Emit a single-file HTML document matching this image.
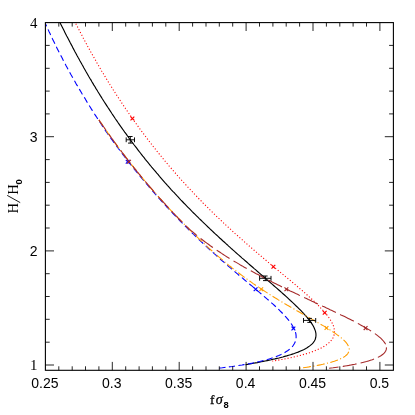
<!DOCTYPE html>
<html><head><meta charset="utf-8"><title>plot</title>
<style>
html,body{margin:0;padding:0;background:#fff;}
body{width:415px;height:415px;overflow:hidden;font-family:"Liberation Sans",sans-serif;}
svg{display:block;will-change:transform;}
</style></head><body>
<svg width="415" height="415" viewBox="0 0 415 415">
<rect width="415" height="415" fill="#fff"/>
<defs><clipPath id="c"><rect x="45.4" y="22.6" width="348.0" height="347.7"/></clipPath></defs>
<g clip-path="url(#c)" fill="none" stroke-width="1.1">
<path d="M57.8 18.0L58.7 19.8L59.5 21.6L60.4 23.4L61.3 25.2L62.2 27.0L63.1 28.8L64.0 30.6L64.9 32.4L65.8 34.2L66.7 36.0L67.7 37.7L68.6 39.5L69.5 41.3L70.4 43.1L71.4 44.9L72.3 46.6L73.2 48.4L74.2 50.2L75.1 52.0L76.1 53.7L77.0 55.5L78.0 57.3L79.0 59.0L79.9 60.8L80.9 62.5L81.9 64.3L82.9 66.0L83.8 67.8L84.8 69.5L85.8 71.3L86.8 73.0L87.8 74.7L88.8 76.5L89.8 78.2L90.9 79.9L91.9 81.7L92.9 83.4L93.9 85.1L95.0 86.8L96.0 88.6L97.1 90.3L98.1 92.0L99.2 93.7L100.2 95.4L101.3 97.1L102.3 98.8L103.4 100.5L104.5 102.2L105.6 103.9L106.7 105.6L107.8 107.3L108.9 108.9L110.0 110.6L111.1 112.3L112.2 114.0L113.3 115.6L114.4 117.3L115.5 119.0L116.7 120.6L117.8 122.3L118.9 123.9L120.1 125.6L121.2 127.2L122.4 128.8L123.6 130.5L124.7 132.1L125.9 133.7L127.1 135.4L128.3 137.0L129.4 138.6L130.6 140.2L131.8 141.8L133.0 143.4L134.2 145.0L135.5 146.6L136.7 148.2L137.9 149.8L139.1 151.4L140.4 153.0L141.6 154.6L142.8 156.2L144.1 157.7L145.3 159.3L146.6 160.9L147.9 162.4L149.1 164.0L150.4 165.5L151.7 167.1L153.0 168.6L154.3 170.2L155.6 171.7L156.8 173.2L158.2 174.7L159.5 176.3L160.8 177.8L162.1 179.3L163.4 180.8L164.7 182.3L166.1 183.8L167.4 185.3L168.8 186.8L170.1 188.3L171.4 189.8L172.8 191.3L174.2 192.7L175.5 194.2L176.9 195.7L178.3 197.1L179.6 198.6L181.0 200.1L182.4 201.5L183.8 203.0L185.2 204.4L186.6 205.9L188.0 207.3L189.4 208.7L190.8 210.1L192.2 211.6L193.6 213.0L195.1 214.4L196.5 215.8L197.9 217.2L199.3 218.6L200.8 220.0L202.2 221.4L203.7 222.8L205.1 224.2L206.6 225.6L208.0 227.0L209.5 228.4L210.9 229.8L212.4 231.1L213.8 232.5L215.3 233.9L216.8 235.2L218.3 236.6L219.7 238.0L221.2 239.3L222.7 240.7L224.2 242.0L225.7 243.4L227.2 244.7L228.6 246.1L230.1 247.4L231.6 248.8L233.1 250.1L234.6 251.4L236.1 252.8L237.6 254.1L239.1 255.4L240.6 256.7L242.1 258.1L243.7 259.4L245.2 260.7L246.7 262.0L248.2 263.4L249.7 264.7L251.2 266.0L252.7 267.3L254.2 268.6L255.8 269.9L257.3 271.3L258.8 272.6L260.3 273.9L261.8 275.2L263.3 276.5L264.9 277.8L266.4 279.1L267.9 280.5L269.4 281.8L270.9 283.1L272.4 284.4L273.9 285.7L275.5 287.1L277.0 288.4L278.5 289.7L280.0 291.0L281.5 292.4L283.0 293.7L284.5 295.0L286.0 296.4L287.4 297.7L288.9 299.1L290.4 300.5L291.9 301.8L293.3 303.2L294.8 304.6L296.2 306.0L297.7 307.4L299.1 308.8L300.5 310.2L301.9 311.7L303.3 313.1L304.6 314.6L306.0 316.1L307.3 317.6L308.5 319.2L309.8 320.8L310.9 322.4L312.1 324.1L313.1 325.8L314.0 327.6L314.8 329.4L315.5 331.3L315.9 333.3L316.0 335.3L315.8 337.2L315.3 339.2L314.4 341.0L313.3 342.6L311.9 344.1L310.4 345.4L308.8 346.6L307.1 347.7L305.4 348.7L303.6 349.7L301.8 350.5L300.0 351.3L298.1 352.1L296.2 352.8L294.3 353.5L292.4 354.1L290.5 354.8L288.6 355.3L286.7 355.9L284.7 356.4L282.8 357.0L280.9 357.5L278.9 358.0L277.0 358.4L275.0 358.9L273.1 359.3L271.1 359.8L269.1 360.2L267.2 360.6L265.2 361.0L263.2 361.4L261.3 361.8L259.3 362.2L257.3 362.6L255.4 362.9L253.4 363.3L251.4 363.7L249.4 364.0L247.5 364.4L245.5 364.7" stroke="#000" stroke-width="1.15"/>
<path d="M73.1 18.0L74.0 19.8L74.8 21.6L75.7 23.4L76.7 25.2L77.6 27.0L78.5 28.8L79.4 30.5L80.3 32.3L81.2 34.1L82.2 35.9L83.1 37.7L84.0 39.4L85.0 41.2L85.9 43.0L86.9 44.7L87.8 46.5L88.8 48.3L89.8 50.0L90.7 51.8L91.7 53.5L92.7 55.3L93.7 57.0L94.7 58.8L95.7 60.5L96.6 62.3L97.6 64.0L98.7 65.8L99.7 67.5L100.7 69.2L101.7 71.0L102.7 72.7L103.8 74.4L104.8 76.1L105.8 77.8L106.9 79.6L107.9 81.3L109.0 83.0L110.0 84.7L111.1 86.4L112.2 88.1L113.2 89.8L114.3 91.5L115.4 93.2L116.5 94.9L117.6 96.5L118.7 98.2L119.8 99.9L120.9 101.6L122.0 103.3L123.1 104.9L124.2 106.6L125.3 108.3L126.5 109.9L127.6 111.6L128.7 113.2L129.9 114.9L131.0 116.5L132.2 118.2L133.3 119.8L134.5 121.4L135.7 123.1L136.8 124.7L138.0 126.3L139.2 128.0L140.4 129.6L141.6 131.2L142.8 132.8L144.0 134.4L145.2 136.0L146.4 137.6L147.6 139.2L148.8 140.8L150.0 142.4L151.3 144.0L152.5 145.6L153.7 147.1L155.0 148.7L156.2 150.3L157.5 151.8L158.8 153.4L160.0 155.0L161.3 156.5L162.6 158.1L163.8 159.6L165.1 161.2L166.4 162.7L167.7 164.2L169.0 165.8L170.3 167.3L171.6 168.8L172.9 170.3L174.2 171.9L175.6 173.4L176.9 174.9L178.2 176.4L179.5 177.9L180.9 179.4L182.2 180.9L183.6 182.4L184.9 183.8L186.3 185.3L187.6 186.8L189.0 188.3L190.4 189.7L191.8 191.2L193.1 192.7L194.5 194.1L195.9 195.6L197.3 197.0L198.7 198.5L200.1 199.9L201.5 201.3L202.9 202.8L204.3 204.2L205.7 205.6L207.1 207.0L208.6 208.4L210.0 209.9L211.4 211.3L212.9 212.7L214.3 214.1L215.7 215.5L217.2 216.9L218.6 218.2L220.1 219.6L221.6 221.0L223.0 222.4L224.5 223.8L225.9 225.1L227.4 226.5L228.9 227.8L230.4 229.2L231.9 230.6L233.3 231.9L234.8 233.3L236.3 234.6L237.8 235.9L239.3 237.3L240.8 238.6L242.3 239.9L243.8 241.3L245.3 242.6L246.8 243.9L248.3 245.2L249.9 246.6L251.4 247.9L252.9 249.2L254.4 250.5L255.9 251.8L257.5 253.1L259.0 254.4L260.5 255.7L262.1 257.0L263.6 258.3L265.1 259.6L266.7 260.9L268.2 262.2L269.7 263.4L271.3 264.7L272.8 266.0L274.4 267.3L275.9 268.6L277.5 269.9L279.0 271.2L280.5 272.4L282.1 273.7L283.6 275.0L285.2 276.3L286.7 277.6L288.3 278.9L289.8 280.1L291.3 281.4L292.9 282.7L294.4 284.0L296.0 285.3L297.5 286.6L299.0 287.9L300.5 289.2L302.1 290.5L303.6 291.8L305.1 293.2L306.6 294.5L308.1 295.8L309.6 297.2L311.1 298.5L312.5 299.9L314.0 301.2L315.5 302.6L316.9 304.0L318.3 305.4L319.7 306.9L321.1 308.3L322.5 309.8L323.8 311.3L325.1 312.8L326.4 314.3L327.7 315.9L328.8 317.5L330.0 319.2L331.0 320.9L332.0 322.7L332.9 324.5L333.6 326.4L334.1 328.3L334.4 330.3L334.5 332.3L334.3 334.3L333.7 336.2L332.9 338.0L331.8 339.7L330.6 341.3L329.1 342.7L327.6 344.0L326.0 345.1L324.3 346.2L322.5 347.2L320.8 348.2L319.0 349.0L317.1 349.8L315.3 350.6L313.4 351.3L311.5 352.0L309.6 352.7L307.7 353.3L305.8 353.9L303.8 354.4L301.9 355.0L300.0 355.5L298.0 356.0L296.1 356.4L294.1 356.9L292.2 357.3L290.2 357.8L288.2 358.2L286.3 358.6L284.3 359.0L282.3 359.4L280.4 359.7L278.4 360.1L276.4 360.4L274.4 360.8L272.4 361.1" stroke="#ff0000" stroke-dasharray="1.1 2.05" stroke-width="1.1"/>
<path d="M45.0 22.6L45.8 24.4L46.6 26.2L47.5 28.1L48.3 29.9L49.1 31.7L50.0 33.5L50.8 35.3L51.7 37.1L52.5 38.9L53.4 40.7L54.3 42.5L55.2 44.3L56.0 46.1L56.9 47.9L57.8 49.7L58.7 51.5L59.6 53.3L60.5 55.1L61.5 56.8L62.4 58.6L63.3 60.4L64.2 62.2L65.2 63.9L66.1 65.7L67.1 67.5L68.0 69.2L69.0 71.0L69.9 72.7L70.9 74.5L71.9 76.2L72.9 78.0L73.9 79.7L74.9 81.4L75.8 83.2L76.8 84.9L77.9 86.6L78.9 88.4L79.9 90.1L80.9 91.8L81.9 93.5L83.0 95.2L84.0 96.9L85.1 98.6L86.1 100.4L87.1 102.1L88.2 103.8L89.2 105.5L90.3 107.2L91.3 108.9L92.4 110.6L93.5 112.3L94.5 114.0L95.6 115.6L96.7 117.3L97.8 119.0L98.9 120.7L100.0 122.3L101.1 124.0L102.2 125.7L103.3 127.3L104.4 129.0L105.5 130.7L106.7 132.3L107.8 133.9L109.0 135.6L110.1 137.2L111.3 138.8L112.5 140.4L113.6 142.1L114.8 143.7L116.0 145.3L117.2 146.9L118.4 148.5L119.6 150.1L120.8 151.7L122.0 153.3L123.2 154.9L124.4 156.5L125.6 158.1L126.9 159.7L128.1 161.2L129.3 162.8L130.5 164.4L131.8 166.0L133.0 167.5L134.3 169.1L135.5 170.7L136.8 172.2L138.1 173.8L139.3 175.3L140.6 176.9L141.9 178.4L143.2 179.9L144.4 181.5L145.7 183.0L147.0 184.5L148.3 186.0L149.6 187.6L150.9 189.1L152.2 190.6L153.6 192.1L154.9 193.6L156.2 195.1L157.5 196.6L158.8 198.1L160.2 199.6L161.5 201.1L162.9 202.6L164.2 204.0L165.6 205.5L166.9 207.0L168.3 208.4L169.6 209.9L171.0 211.4L172.4 212.8L173.8 214.3L175.1 215.7L176.5 217.2L177.9 218.6L179.3 220.0L180.7 221.5L182.1 222.9L183.5 224.3L184.9 225.8L186.3 227.2L187.7 228.6L189.1 230.0L190.6 231.4L192.0 232.8L193.4 234.2L194.9 235.6L196.3 237.0L197.7 238.4L199.2 239.8L200.6 241.1L202.1 242.5L203.6 243.9L205.0 245.2L206.5 246.6L208.0 248.0L209.4 249.3L210.9 250.7L212.4 252.0L213.9 253.3L215.4 254.7L216.9 256.0L218.3 257.3L219.8 258.7L221.3 260.0L222.8 261.3L224.4 262.6L225.9 263.9L227.4 265.3L228.9 266.6L230.4 267.9L231.9 269.2L233.4 270.5L235.0 271.8L236.5 273.1L238.0 274.4L239.5 275.7L241.1 276.9L242.6 278.2L244.1 279.5L245.7 280.8L247.2 282.1L248.7 283.4L250.3 284.7L251.8 285.9L253.3 287.2L254.9 288.5L256.4 289.8L257.9 291.1L259.4 292.4L261.0 293.7L262.5 295.0L264.0 296.3L265.5 297.6L267.0 298.9L268.6 300.2L270.1 301.5L271.5 302.9L273.0 304.2L274.5 305.5L276.0 306.9L277.4 308.3L278.9 309.7L280.3 311.1L281.7 312.5L283.1 313.9L284.5 315.4L285.8 316.9L287.1 318.4L288.4 319.9L289.6 321.5L290.8 323.1L291.9 324.8L292.9 326.5L293.9 328.3L294.7 330.1L295.4 332.0L295.9 333.9L296.1 335.9L296.1 337.9L295.9 339.9L295.3 341.8L294.4 343.6L293.4 345.3L292.1 346.8L290.7 348.2L289.2 349.5L287.6 350.7L285.9 351.8L284.2 352.9L282.4 353.8L280.6 354.7L278.8 355.5L276.9 356.2L275.1 357.0L273.2 357.6L271.3 358.3L269.4 358.9L267.5 359.5L265.5 360.0L263.6 360.5L261.7 361.0L259.7 361.5L257.8 361.9L255.8 362.4L253.9 362.8L251.9 363.2L249.9 363.6L248.0 363.9L246.0 364.3L244.0 364.6L242.1 365.0L240.1 365.3L238.1 365.6L236.1 365.9L234.2 366.2L232.2 366.5L230.2 366.7L228.2 367.0L226.2 367.3L224.2 367.5L222.3 367.8L220.3 368.0L218.3 368.2L216.3 368.4" stroke="#0000ff" stroke-dasharray="6.2 3.43" stroke-dashoffset="2.2"/>
<path d="M98.9 119.9L100.0 121.6L101.2 123.2L102.3 124.9L103.4 126.5L104.6 128.1L105.7 129.8L106.9 131.4L108.0 133.1L109.2 134.7L110.3 136.3L111.5 138.0L112.6 139.6L113.8 141.2L115.0 142.8L116.2 144.4L117.4 146.1L118.5 147.7L119.7 149.3L120.9 150.9L122.1 152.5L123.4 154.1L124.6 155.7L125.8 157.2L127.0 158.8L128.2 160.4L129.5 162.0L130.7 163.6L131.9 165.1L133.2 166.7L134.4 168.3L135.7 169.8L136.9 171.4L138.2 172.9L139.5 174.5L140.7 176.0L142.0 177.6L143.3 179.1L144.6 180.7L145.9 182.2L147.1 183.7L148.4 185.2L149.7 186.8L151.0 188.3L152.4 189.8L153.7 191.3L155.0 192.8L156.3 194.3L157.6 195.8L159.0 197.3L160.3 198.8L161.6 200.3L163.0 201.8L164.3 203.3L165.7 204.7L167.0 206.2L168.4 207.7L169.7 209.1L171.1 210.6L172.5 212.1L173.8 213.5L175.2 215.0L176.6 216.4L178.0 217.9L179.4 219.3L180.8 220.7L182.2 222.2L183.6 223.6L185.0 225.0L186.4 226.4L187.8 227.9L189.2 229.3L190.6 230.7L192.1 232.1L193.5 233.5L194.9 234.9L196.4 236.3L197.8 237.7L199.3 239.1L200.7 240.4L202.2 241.8L203.6 243.2L205.1 244.5L206.5 245.9L208.0 247.3L209.5 248.6L211.0 250.0L212.5 251.3L214.0 252.6L215.5 254.0L217.0 255.3L218.5 256.6L220.0 257.9L221.5 259.2L223.0 260.5L224.6 261.8L226.1 263.0L227.7 264.3L229.2 265.6L230.8 266.8L232.3 268.1L233.9 269.3L235.5 270.5L237.1 271.8L238.7 273.0L240.3 274.2L241.9 275.4L243.5 276.6L245.1 277.8L246.7 278.9L248.3 280.1L250.0 281.3L251.6 282.4L253.2 283.6L254.9 284.7L256.5 285.8L258.2 286.9L259.9 288.1L261.5 289.2L263.2 290.3L264.9 291.4L266.5 292.4L268.2 293.5L269.9 294.6L271.6 295.7L273.3 296.7L275.0 297.8L276.7 298.8L278.4 299.9L280.1 300.9L281.9 301.9L283.6 302.9L285.3 304.0L287.0 305.0L288.8 306.0L290.5 307.0L292.2 308.0L294.0 309.0L295.7 310.0L297.4 311.0L299.2 312.0L300.9 312.9L302.7 313.9L304.4 314.9L306.1 315.9L307.9 316.9L309.6 317.9L311.4 318.9L313.1 319.9L314.8 320.9L316.6 321.9L318.3 322.9L320.0 323.9L321.8 324.9L323.5 325.9L325.2 326.9L326.9 328.0L328.6 329.0L330.3 330.1L332.0 331.2L333.6 332.3L335.3 333.4L336.9 334.6L338.5 335.7L340.1 337.0L341.7 338.2L343.2 339.6L344.6 340.9L346.0 342.4L347.2 344.0L348.2 345.7L349.0 347.6L349.3 349.5L348.9 351.5L348.0 353.3L346.8 354.8L345.2 356.1L343.6 357.2L341.8 358.2L340.0 359.0L338.2 359.8L336.3 360.5L334.4 361.2L332.5 361.8L330.6 362.4L328.7 362.9L326.7 363.4L324.8 363.8L322.8 364.3L320.9 364.7L318.9 365.1L316.9 365.5L315.0 365.8L313.0 366.2L311.0 366.5L309.0 366.9L307.1 367.2L305.1 367.5L303.1 367.8L301.1 368.0L299.1 368.3" stroke="#ff9d00" stroke-dasharray="8 2.4 1.1 2.4" stroke-dashoffset="0.9"/>
<path d="M98.9 119.9L100.0 121.6L101.2 123.2L102.3 124.9L103.4 126.5L104.6 128.2L105.7 129.8L106.9 131.4L108.0 133.1L109.2 134.7L110.3 136.4L111.5 138.0L112.7 139.6L113.9 141.3L115.0 142.9L116.2 144.5L117.4 146.1L118.6 147.7L119.8 149.3L121.0 150.9L122.2 152.5L123.4 154.1L124.6 155.7L125.8 157.3L127.1 158.9L128.3 160.5L129.5 162.1L130.8 163.7L132.0 165.2L133.3 166.8L134.5 168.4L135.8 169.9L137.0 171.5L138.3 173.1L139.6 174.6L140.8 176.2L142.1 177.7L143.4 179.2L144.7 180.8L146.0 182.3L147.3 183.8L148.6 185.4L149.9 186.9L151.2 188.4L152.5 189.9L153.8 191.5L155.1 193.0L156.4 194.5L157.8 196.0L159.1 197.5L160.4 199.0L161.8 200.5L163.1 201.9L164.5 203.4L165.8 204.9L167.2 206.4L168.5 207.9L169.9 209.3L171.3 210.8L172.6 212.3L174.0 213.7L175.4 215.2L176.8 216.6L178.2 218.1L179.6 219.5L181.0 220.9L182.4 222.4L183.8 223.8L185.2 225.2L186.7 226.6L188.2 227.9L189.6 229.3L191.1 230.6L192.7 231.9L194.2 233.2L195.7 234.5L197.3 235.8L198.8 237.0L200.4 238.3L202.0 239.5L203.6 240.7L205.2 242.0L206.8 243.1L208.4 244.3L210.0 245.5L211.7 246.7L213.3 247.8L215.0 249.0L216.6 250.1L218.3 251.2L220.0 252.3L221.6 253.4L223.3 254.5L225.0 255.6L226.7 256.7L228.4 257.7L230.1 258.8L231.8 259.8L233.5 260.9L235.3 261.9L237.0 262.9L238.7 263.9L240.4 264.9L242.2 265.9L243.9 266.9L245.7 267.9L247.4 268.9L249.2 269.9L250.9 270.8L252.7 271.8L254.5 272.7L256.2 273.7L258.0 274.6L259.8 275.6L261.5 276.5L263.3 277.4L265.1 278.4L266.9 279.3L268.7 280.2L270.5 281.1L272.2 282.0L274.0 282.9L275.8 283.8L277.6 284.7L279.4 285.6L281.2 286.5L283.0 287.4L284.8 288.2L286.6 289.1L288.4 290.0L290.2 290.9L292.0 291.7L293.8 292.6L295.7 293.5L297.5 294.3L299.3 295.2L301.1 296.0L302.9 296.9L304.7 297.8L306.5 298.6L308.3 299.5L310.2 300.3L312.0 301.2L313.8 302.0L315.6 302.9L317.4 303.7L319.2 304.6L321.1 305.4L322.9 306.3L324.7 307.1L326.5 308.0L328.3 308.8L330.1 309.7L331.9 310.5L333.8 311.4L335.6 312.3L337.4 313.1L339.2 314.0L341.0 314.9L342.8 315.7L344.6 316.6L346.4 317.5L348.2 318.4L350.0 319.3L351.8 320.2L353.6 321.1L355.3 322.1L357.1 323.0L358.9 323.9L360.6 324.9L362.4 325.9L364.1 326.9L365.9 327.9L367.6 328.9L369.3 329.9L371.0 331.0L372.7 332.1L374.3 333.2L376.0 334.4L377.6 335.6L379.1 336.8L380.7 338.2L382.1 339.6L383.4 341.0L384.6 342.6L385.6 344.4" stroke="#a52a2a" stroke-dasharray="15.3 4.6" stroke-dashoffset="2.5"/>
<path d="M386.5 347.4L386.3 349.4L385.6 351.3L384.4 352.9L382.9 354.3L381.3 355.5L379.6 356.5L377.8 357.4L376.0 358.3L374.1 359.0L372.3 359.7L370.4 360.3L368.5 360.9L366.5 361.5L364.6 362.0L362.7 362.5L360.7 363.0L358.8 363.4L356.8 363.8L354.8 364.3L352.9 364.6L350.9 365.0L348.9 365.4L347.0 365.7L345.0 366.0L343.0 366.4L341.0 366.7L339.0 367.0L337.1 367.2L335.1 367.5L333.1 367.8L331.1 368.0L329.1 368.3" stroke="#a52a2a" stroke-dasharray="14 4.2"/>
</g>
<path d="M130.5 116.6L134.3 120.4M130.5 120.4L134.3 116.6" stroke="#ff0000" stroke-width="1.15" fill="none"/>
<path d="M271.5 264.9L275.3 268.7M271.5 268.7L275.3 264.9" stroke="#ff0000" stroke-width="1.15" fill="none"/>
<path d="M322.8 310.8L326.6 314.6M322.8 314.6L326.6 310.8" stroke="#ff0000" stroke-width="1.15" fill="none"/>
<path d="M125.8 159.8L129.6 163.6M125.8 163.6L129.6 159.8" stroke="#0000ff" stroke-width="1.15" fill="none"/>
<path d="M253.7 287.4L257.5 291.2M253.7 291.2L257.5 287.4" stroke="#0000ff" stroke-width="1.15" fill="none"/>
<path d="M291.5 326.6L295.3 330.4M291.5 330.4L295.3 326.6" stroke="#0000ff" stroke-width="1.15" fill="none"/>
<path d="M127.1 159.8L130.9 163.6M127.1 163.6L130.9 159.8" stroke="#a52a2a" stroke-width="1.15" fill="none"/>
<path d="M284.5 287.4L288.3 291.2M284.5 291.2L288.3 287.4" stroke="#a52a2a" stroke-width="1.15" fill="none"/>
<path d="M363.7 326.2L367.5 330.0M363.7 330.0L367.5 326.2" stroke="#a52a2a" stroke-width="1.15" fill="none"/>
<path d="M259.3 287.4L263.1 291.2M259.3 291.2L263.1 287.4" stroke="#ff9d00" stroke-width="1.15" fill="none"/>
<path d="M324.6 326.1L328.4 329.9M324.6 329.9L328.4 326.1" stroke="#ff9d00" stroke-width="1.15" fill="none"/>
<path d="M126.2 139.8H134.5M126.2 137.4V142.2M134.5 137.4V142.2M130.3 136.5V143.1M128.0 136.5H132.6M128.0 143.1H132.6" stroke="#000" stroke-width="0.95" fill="none"/>
<path d="M259.6 278.3H271.0M259.6 275.9V280.7M271.0 275.9V280.7M265.3 276.0V280.6M263.0 276.0H267.6M263.0 280.6H267.6" stroke="#000" stroke-width="0.95" fill="none"/>
<path d="M303.5 320.4H315.7M303.5 318.0V322.8M315.7 318.0V322.8M309.6 318.4V322.4M307.3 318.4H311.9M307.3 322.4H311.9" stroke="#000" stroke-width="0.95" fill="none"/>
<rect x="45.4" y="22.6" width="348.0" height="347.7" stroke="#000" stroke-width="1.1" fill="none"/>
<path d="M58.8 370.3V366.3M58.8 22.6V26.6M72.2 370.3V366.3M72.2 22.6V26.6M85.5 370.3V366.3M85.5 22.6V26.6M98.9 370.3V366.3M98.9 22.6V26.6M112.3 370.3V361.9M112.3 22.6V31.0M125.7 370.3V366.3M125.7 22.6V26.6M139.1 370.3V366.3M139.1 22.6V26.6M152.4 370.3V366.3M152.4 22.6V26.6M165.8 370.3V366.3M165.8 22.6V26.6M179.2 370.3V361.9M179.2 22.6V31.0M192.6 370.3V366.3M192.6 22.6V26.6M206.0 370.3V366.3M206.0 22.6V26.6M219.3 370.3V366.3M219.3 22.6V26.6M232.7 370.3V366.3M232.7 22.6V26.6M246.1 370.3V361.9M246.1 22.6V31.0M259.5 370.3V366.3M259.5 22.6V26.6M272.9 370.3V366.3M272.9 22.6V26.6M286.2 370.3V366.3M286.2 22.6V26.6M299.6 370.3V366.3M299.6 22.6V26.6M313.0 370.3V361.9M313.0 22.6V31.0M326.4 370.3V366.3M326.4 22.6V26.6M339.8 370.3V366.3M339.8 22.6V26.6M353.1 370.3V366.3M353.1 22.6V26.6M366.5 370.3V366.3M366.5 22.6V26.6M379.9 370.3V361.9M379.9 22.6V31.0M45.4 365.0H54.0M393.4 365.0H384.8M45.4 342.2H49.7M393.4 342.2H389.1M45.4 319.3H49.7M393.4 319.3H389.1M45.4 296.5H49.7M393.4 296.5H389.1M45.4 273.7H49.7M393.4 273.7H389.1M45.4 250.9H54.0M393.4 250.9H384.8M45.4 228.0H49.7M393.4 228.0H389.1M45.4 205.2H49.7M393.4 205.2H389.1M45.4 182.4H49.7M393.4 182.4H389.1M45.4 159.6H49.7M393.4 159.6H389.1M45.4 136.7H54.0M393.4 136.7H384.8M45.4 113.9H49.7M393.4 113.9H389.1M45.4 91.1H49.7M393.4 91.1H389.1M45.4 68.3H49.7M393.4 68.3H389.1M45.4 45.4H49.7M393.4 45.4H389.1" stroke="#000" stroke-width="0.85" fill="none"/>
<g font-family="'Liberation Sans',sans-serif" font-size="14" fill="#000">
<text x="44.9" y="387.5" text-anchor="middle">0.25</text>
<text x="111.8" y="387.5" text-anchor="middle">0.3</text>
<text x="178.7" y="387.5" text-anchor="middle">0.35</text>
<text x="245.6" y="387.5" text-anchor="middle">0.4</text>
<text x="312.5" y="387.5" text-anchor="middle">0.45</text>
<text x="379.4" y="387.5" text-anchor="middle">0.5</text>
<text x="37.6" y="370.0" text-anchor="end" font-family="'Liberation Serif',serif" font-size="14.8" dx="-0.3">1</text>
<text x="37.6" y="255.9" text-anchor="end">2</text>
<text x="37.6" y="141.7" text-anchor="end">3</text>
<text x="37.6" y="27.6" text-anchor="end" font-family="'Liberation Serif',serif" font-size="14.8" dx="-0.3">4</text>
</g>
<g font-family="'Liberation Serif',serif" fill="#000">
<text x="209.9" y="403.8" font-size="13.3" stroke="#000" stroke-width="0.3">f</text>
<text x="215.7" y="403.8" font-size="14.2" font-style="italic" stroke="#000" stroke-width="0.25">&#963;</text>
<text x="223.5" y="407.8" font-size="9.4" font-weight="bold" font-family="'Liberation Sans',sans-serif">8</text>
<g transform="translate(18,213.4) rotate(-90)">
<text x="0" y="0" font-size="14.6">H</text>
<path d="M10.8 2.2L18 -10.8" stroke="#000" stroke-width="0.9" fill="none"/>
<text x="18.7" y="0" font-size="14.6">H</text>
<text x="28.8" y="4.4" font-size="9.5" font-weight="bold" font-family="'Liberation Sans',sans-serif">0</text>
</g>
</g>
</svg>
</body></html>
